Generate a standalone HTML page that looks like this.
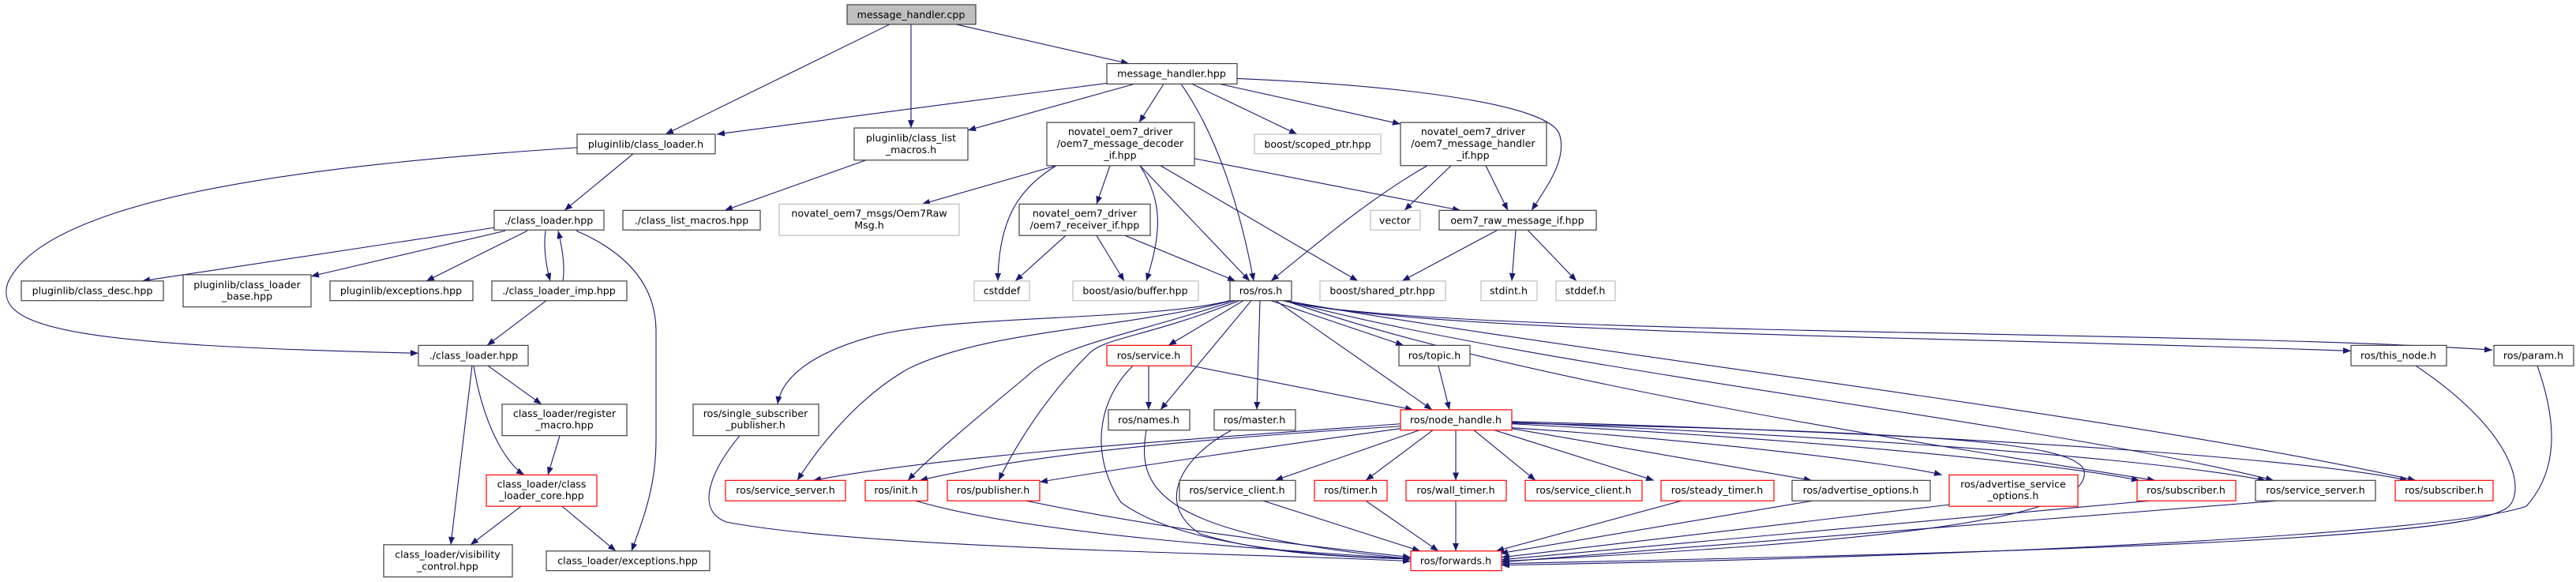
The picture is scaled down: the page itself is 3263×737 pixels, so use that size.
<!DOCTYPE html>
<html><head><meta charset="utf-8"><style>
html,body{margin:0;padding:0;background:#fff;}
svg{display:block;}
text{font-family:"DejaVu Sans","Liberation Sans",sans-serif;font-size:12.6px;fill:#000;text-anchor:middle;}
.e{fill:none;stroke:#191970;stroke-width:1.1;marker-end:url(#a);}
.n{fill:#fff;stroke:#404040;stroke-width:1.2;}
.r{fill:#fff;stroke:#ff0000;stroke-width:1.2;}
.g{fill:#fff;stroke:#bfbfbf;stroke-width:1.2;}
</style></head><body>
<svg width="3263" height="737" viewBox="0 0 3263 737" xmlns="http://www.w3.org/2000/svg">
<defs><marker id="a" viewBox="0 0 10 8" refX="10" refY="4" markerWidth="10" markerHeight="8" markerUnits="userSpaceOnUse" orient="auto"><path d="M0,0 L10,4 L0,8 z" fill="#191970"/></marker></defs>
<g transform="scale(1,0.994)">
<!-- edges -->
<path class="e" d="M1127,31 L843,171"/>
<path class="e" d="M1154,31 L1154,163"/>
<path class="e" d="M1211,31 L1430,81"/>
<path class="e" d="M1402,106 L908,171"/>
<path class="e" d="M1437,107 L1226,166"/>
<path class="e" d="M1474,107 L1443,156"/>
<path class="e" d="M1496,107 C1540,170 1570,260 1588,358"/>
<path class="e" d="M1510,107 L1643,171"/>
<path class="e" d="M1545,107 L1774,158"/>
<path class="e" d="M1567,100 C1800,110 1960,135 1975,170 C1985,200 1965,230 1940,268"/>
<path class="e" d="M802,196 L715,268"/>
<path class="e" d="M731,188 C400,210 60,250 10,360 C-10,420 100,440 530,450"/>
<path class="e" d="M1097,204 L918,268"/>
<path class="e" d="M626,290 L180,358"/>
<path class="e" d="M640,294 L394,352"/>
<path class="e" d="M668,294 L540,358"/>
<path class="e" d="M691,294 C688,315 692,340 697,358"/>
<path class="e" d="M713,358 C716,340 712,315 707,294"/>
<path class="e" d="M730,294 C790,320 830,360 831,420 L831,560 C831,620 815,660 800,702"/>
<path class="e" d="M692,383 L617,440"/>
<path class="e" d="M598,466 L571,694"/>
<path class="e" d="M600,466 C612,540 640,590 664,605"/>
<path class="e" d="M618,466 L686,515"/>
<path class="e" d="M709,555 L694,605"/>
<path class="e" d="M660,645 L596,694"/>
<path class="e" d="M712,645 L780,702"/>
<path class="e" d="M1338,211 L1168,260"/>
<path class="e" d="M1338,211 C1290,240 1265,280 1264,358"/>
<path class="e" d="M1406,211 L1389,260"/>
<path class="e" d="M1444,211 C1475,260 1470,300 1452,358"/>
<path class="e" d="M1444,211 L1583,358"/>
<path class="e" d="M1470,211 L1720,358"/>
<path class="e" d="M1513,202 L1850,268"/>
<path class="e" d="M1350,300 L1286,358"/>
<path class="e" d="M1389,300 L1424,358"/>
<path class="e" d="M1425,300 L1565,358"/>
<path class="e" d="M1808,211 C1740,250 1680,300 1610,358"/>
<path class="e" d="M1838,211 L1779,268"/>
<path class="e" d="M1882,211 L1910,268"/>
<path class="e" d="M1897,293 L1776,358"/>
<path class="e" d="M1920,293 L1915,358"/>
<path class="e" d="M1935,293 L1997,358"/>
<path class="e" d="M1558,383 C1450,410 1200,400 1100,430 C1030,450 990,480 985,515"/>
<path class="e" d="M1560,383 C1420,420 1250,420 1150,470 C1080,510 1030,580 1010,612"/>
<path class="e" d="M1565,383 C1420,430 1340,440 1300,480 C1240,530 1180,580 1150,612"/>
<path class="e" d="M1570,383 C1450,430 1400,430 1380,450 C1330,500 1290,560 1265,612"/>
<path class="e" d="M1575,383 L1480,440"/>
<path class="e" d="M1585,383 L1470,522"/>
<path class="e" d="M1596,383 L1592,522"/>
<path class="e" d="M1610,383 L1778,440"/>
<path class="e" d="M1616,383 L1814,522"/>
<path class="e" d="M1625,383 C1800,425 2500,430 2978,447"/>
<path class="e" d="M1625,383 C1800,428 2800,420 3157,446"/>
<path class="e" d="M1628,383 C2000,450 2700,530 3060,612"/>
<path class="e" d="M1628,383 C1950,470 2600,540 2880,612"/>
<path class="e" d="M1628,383 C1900,480 2400,560 2730,612"/>
<path class="e" d="M1455,466 L1455,522"/>
<path class="e" d="M1509,466 L1790,522"/>
<path class="e" d="M1435,466 C1390,510 1380,580 1420,640 C1500,700 1700,710 1787,712"/>
<path class="e" d="M937,555 C900,600 880,650 920,665 C1100,700 1600,705 1787,715"/>
<path class="e" d="M1452,548 C1440,620 1460,680 1787,712"/>
<path class="e" d="M1560,548 C1500,580 1460,640 1520,680 C1600,705 1700,710 1787,712"/>
<path class="e" d="M1822,466 L1836,522"/>
<path class="e" d="M1774,540 C1500,560 1200,580 1030,612"/>
<path class="e" d="M1774,543 C1500,560 1300,580 1165,612"/>
<path class="e" d="M1774,546 C1600,570 1400,600 1317,614"/>
<path class="e" d="M1798,548 L1615,612"/>
<path class="e" d="M1815,548 L1730,612"/>
<path class="e" d="M1844,548 L1844,612"/>
<path class="e" d="M1867,548 L1945,612"/>
<path class="e" d="M1893,548 L2095,612"/>
<path class="e" d="M1915,546 L2295,612"/>
<path class="e" d="M1915,545 C2150,560 2400,590 2460,605"/>
<path class="e" d="M1915,540 C2300,560 2600,590 2710,612"/>
<path class="e" d="M1915,538 C2300,555 2700,580 2870,612"/>
<path class="e" d="M1915,537 C2400,550 2900,580 3050,612"/>
<path class="e" d="M1915,539 C2400,550 2630,560 2640,600 C2650,660 2400,690 1902,715"/>
<path class="e" d="M1160,638 C1300,680 1600,700 1787,712"/>
<path class="e" d="M1300,638 C1500,680 1700,700 1787,710"/>
<path class="e" d="M1600,638 L1799,702"/>
<path class="e" d="M1730,638 L1822,702"/>
<path class="e" d="M1844,638 L1844,702"/>
<path class="e" d="M2130,638 L1895,702"/>
<path class="e" d="M2296,638 L1900,705"/>
<path class="e" d="M2469,643 L1902,710"/>
<path class="e" d="M2723,638 L1902,713"/>
<path class="e" d="M2885,638 L1902,716"/>
<path class="e" d="M3060,466 C3200,560 3200,640 3170,650 C3100,690 2500,705 1902,718"/>
<path class="e" d="M3214,466 C3240,540 3240,600 3200,645 C3100,680 2500,710 1902,720"/>
<!-- nodes -->
<rect x="1073" y="6" width="163" height="25" fill="#bfbfbf" stroke="#404040" stroke-width="1.2"/><text x="1154" y="23">message_handler.cpp</text>
<rect class="n" x="1402" y="81" width="165" height="26"/><text x="1484" y="98">message_handler.hpp</text>
<rect class="n" x="731" y="171" width="175" height="25"/><text x="818" y="188">pluginlib/class_loader.h</text>
<rect class="n" x="1082" y="163" width="144" height="41"/><text x="1154" y="180">pluginlib/class_list</text><text x="1154" y="195">_macros.h</text>
<rect class="n" x="1326" y="156" width="187" height="55"/><text x="1419" y="172">novatel_oem7_driver</text><text x="1419" y="187">/oem7_message_decoder</text><text x="1419" y="202">_if.hpp</text>
<rect class="g" x="1589" y="171" width="160" height="25"/><text x="1669" y="188">boost/scoped_ptr.hpp</text>
<rect class="n" x="1774" y="156" width="185" height="55"/><text x="1866" y="172">novatel_oem7_driver</text><text x="1866" y="187">/oem7_message_handler</text><text x="1866" y="202">_if.hpp</text>
<rect class="n" x="626" y="268" width="139" height="25"/><text x="695" y="285">./class_loader.hpp</text>
<rect class="n" x="789" y="268" width="174" height="25"/><text x="876" y="285">./class_list_macros.hpp</text>
<rect class="g" x="987" y="260" width="228" height="40"/><text x="1101" y="276">novatel_oem7_msgs/Oem7Raw</text><text x="1101" y="291">Msg.h</text>
<rect class="n" x="1291" y="260" width="166" height="40"/><text x="1374" y="276">novatel_oem7_driver</text><text x="1374" y="291">/oem7_receiver_if.hpp</text>
<rect class="g" x="1736" y="268" width="63" height="25"/><text x="1767" y="285">vector</text>
<rect class="n" x="1823" y="268" width="199" height="25"/><text x="1922" y="285">oem7_raw_message_if.hpp</text>
<rect class="n" x="27" y="358" width="180" height="25"/><text x="117" y="375">pluginlib/class_desc.hpp</text>
<rect class="n" x="232" y="350" width="162" height="41"/><text x="313" y="367">pluginlib/class_loader</text><text x="313" y="382">_base.hpp</text>
<rect class="n" x="418" y="358" width="181" height="25"/><text x="508" y="375">pluginlib/exceptions.hpp</text>
<rect class="n" x="623" y="358" width="171" height="25"/><text x="708" y="375">./class_loader_imp.hpp</text>
<rect class="g" x="1234" y="358" width="70" height="25"/><text x="1269" y="375">cstddef</text>
<rect class="g" x="1359" y="358" width="159" height="25"/><text x="1438" y="375">boost/asio/buffer.hpp</text>
<rect class="n" x="1558" y="358" width="78" height="25"/><text x="1597" y="375">ros/ros.h</text>
<rect class="g" x="1672" y="358" width="159" height="25"/><text x="1751" y="375">boost/shared_ptr.hpp</text>
<rect class="g" x="1876" y="358" width="71" height="25"/><text x="1911" y="375">stdint.h</text>
<rect class="g" x="1971" y="358" width="75" height="25"/><text x="2008" y="375">stddef.h</text>
<rect class="n" x="530" y="440" width="139" height="26"/><text x="600" y="457">./class_loader.hpp</text>
<rect class="r" x="1402" y="440" width="107" height="26"/><text x="1455" y="457">ros/service.h</text>
<rect class="n" x="1772" y="440" width="90" height="26"/><text x="1817" y="457">ros/topic.h</text>
<rect class="n" x="2978" y="440" width="121" height="26"/><text x="3038" y="457">ros/this_node.h</text>
<rect class="n" x="3159" y="440" width="101" height="26"/><text x="3209" y="457">ros/param.h</text>
<rect class="n" x="636" y="515" width="158" height="40"/><text x="715" y="531">class_loader/register</text><text x="715" y="546">_macro.hpp</text>
<rect class="n" x="878" y="515" width="159" height="40"/><text x="957" y="531">ros/single_subscriber</text><text x="957" y="546">_publisher.h</text>
<rect class="n" x="1404" y="522" width="103" height="26"/><text x="1455" y="539">ros/names.h</text>
<rect class="n" x="1538" y="522" width="103" height="26"/><text x="1589" y="539">ros/master.h</text>
<rect class="r" x="1774" y="522" width="141" height="26"/><text x="1844" y="539">ros/node_handle.h</text>
<rect class="r" x="616" y="605" width="140" height="40"/><text x="686" y="621">class_loader/class</text><text x="686" y="636">_loader_core.hpp</text>
<rect class="r" x="919" y="612" width="152" height="26"/><text x="995" y="629">ros/service_server.h</text>
<rect class="r" x="1096" y="612" width="79" height="26"/><text x="1135" y="629">ros/init.h</text>
<rect class="r" x="1200" y="612" width="117" height="26"/><text x="1258" y="629">ros/publisher.h</text>
<rect class="n" x="1494" y="612" width="147" height="26"/><text x="1567" y="629">ros/service_client.h</text>
<rect class="r" x="1665" y="612" width="92" height="26"/><text x="1711" y="629">ros/timer.h</text>
<rect class="r" x="1781" y="612" width="127" height="26"/><text x="1844" y="629">ros/wall_timer.h</text>
<rect class="r" x="1932" y="612" width="148" height="26"/><text x="2006" y="629">ros/service_client.h</text>
<rect class="r" x="2104" y="612" width="143" height="26"/><text x="2175" y="629">ros/steady_timer.h</text>
<rect class="n" x="2270" y="612" width="175" height="26"/><text x="2357" y="629">ros/advertise_options.h</text>
<rect class="r" x="2469" y="605" width="163" height="40"/><text x="2550" y="621">ros/advertise_service</text><text x="2550" y="636">_options.h</text>
<rect class="r" x="2707" y="612" width="125" height="26"/><text x="2769" y="629">ros/subscriber.h</text>
<rect class="n" x="2857" y="612" width="152" height="26"/><text x="2933" y="629">ros/service_server.h</text>
<rect class="r" x="3034" y="612" width="124" height="26"/><text x="3096" y="629">ros/subscriber.h</text>
<rect class="n" x="486" y="694" width="163" height="41"/><text x="567" y="711">class_loader/visibility</text><text x="567" y="726">_control.hpp</text>
<rect class="n" x="692" y="702" width="207" height="25"/><text x="795" y="719">class_loader/exceptions.hpp</text>
<rect class="r" x="1787" y="702" width="115" height="25"/><text x="1844" y="719">ros/forwards.h</text>
</g>
</svg>
</body></html>
